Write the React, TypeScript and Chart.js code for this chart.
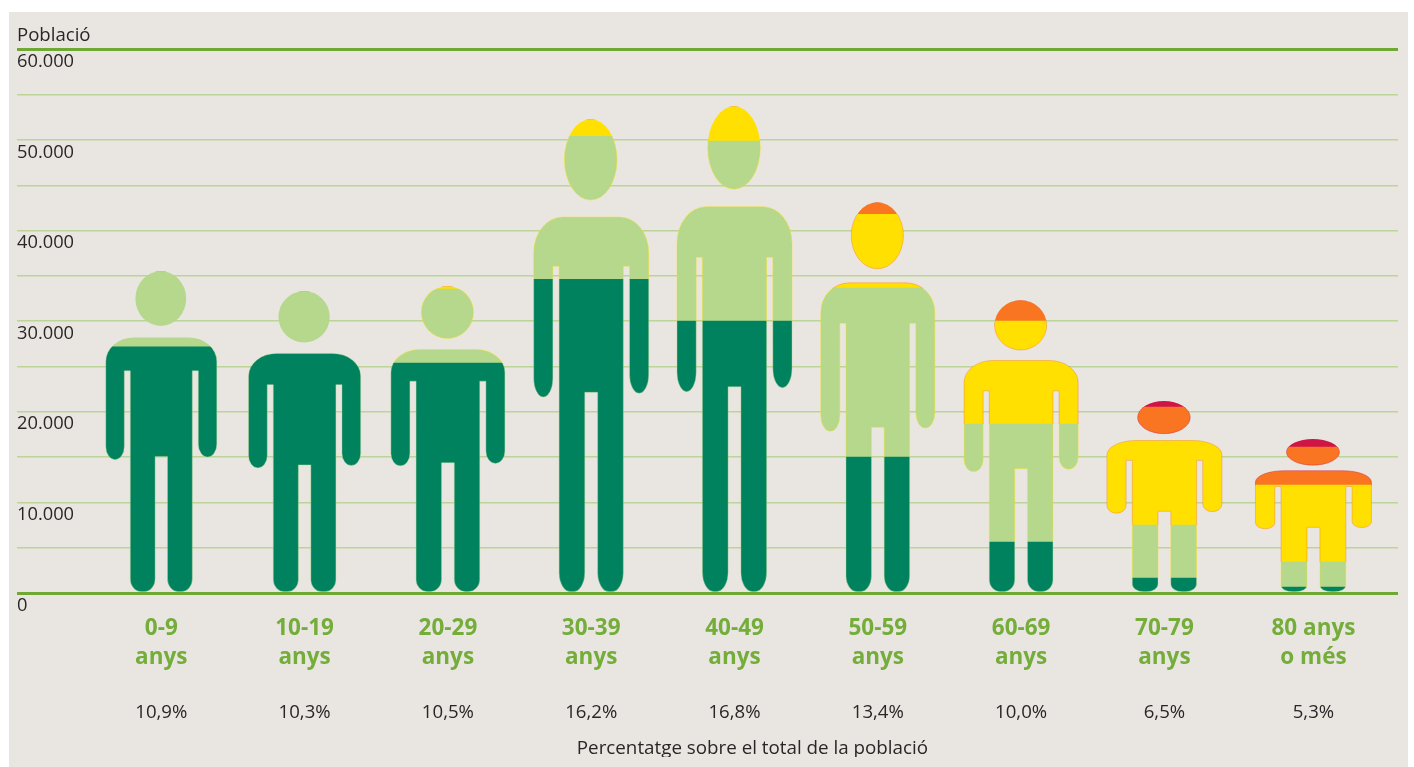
import React, { useEffect, useRef } from "react";
import { Chart, registerables } from "chart.js";

Chart.register(...registerables);

// ---- data ----
const ageLabels = [["0-9", "anys"], ["10-19", "anys"], ["20-29", "anys"], ["30-39", "anys"], ["40-49", "anys"], ["50-59", "anys"], ["60-69", "anys"], ["70-79", "anys"], ["80 anys", "o més"]];
const shareLabels = ["10,9%", "10,3%", "10,5%", "16,2%", "16,8%", "13,4%", "10,0%", "6,5%", "5,3%"];
const groupPositions = [0, 1, 2, 3, 4, 5, 6, 7, 8.04];
const captionPosition = 4.125;
const caption = "Percentatge sobre el total de la població";
const bandDarkGreen = [27170, 27020, 25370, 34630, 30000, 15000, 5630, 1650, 660];
const bandLightGreen = [8350, 6290, 8160, 15770, 19860, 18640, 13010, 5850, 2760];
const bandYellow = [0, 0, 330, 1880, 3860, 8160, 11360, 9700, 8490];
const bandOrange = [0, 0, 0, 0, 0, 1330, 2320, 3320, 4190];
const bandCrimson = [0, 0, 0, 0, 0, 0, 0, 660, 890];

// ---- style ----
const FONT = "'Open Sans', 'Noto Sans', sans-serif";
const TEXT = "#2a2627";
const ACCENT = "#6fa832";
const LABEL = "#74ad3a";
const GRID = "#bcd498";
const PANEL = "#e9e6e1";
const bands = [
  { values: bandDarkGreen, color: "#00825f" },
  { values: bandLightGreen, color: "#b5d88c" },
  { values: bandYellow, color: "#ffe000" },
  { values: bandOrange, color: "#f97522" },
  { values: bandCrimson, color: "#cf1446" },
];
const girth = [1, 1.01, 1.027, 1.036, 1.036, 1.027, 1.027, 1.036, 1.045];

function addFigure(ctx: CanvasRenderingContext2D, cx: number, top: number, foot: number, f: number) {
  const H = foot - top;
  const ax = 55.5 * f, ai = 37 * f, t = 31 * f, l = 6.2 * f;
  const bt = top + 0.207 * H, ap = top + 0.311 * H, hl = top + 0.588 * H, hr = top + 0.58 * H, cr = top + 0.578 * H;
  const rx = 28 * f, ry = 0.075 * H, arm = (ax - ai) / 2, hry = 0.04 * H, frx = 11 * f, fry = 0.04 * H;
  const hry2 = 0.0855 * H;
  ctx.moveTo(cx - ax, bt + ry);
  ctx.ellipse(cx - ax + rx, bt + ry, rx, ry, 0, Math.PI, 1.5 * Math.PI);
  ctx.lineTo(cx + ax - rx, bt);
  ctx.ellipse(cx + ax - rx, bt + ry, rx, ry, 0, -Math.PI / 2, 0);
  ctx.lineTo(cx + ax, hr - hry);
  ctx.ellipse(cx + ai + arm, hr - hry, arm, hry, 0, 0, Math.PI);
  ctx.lineTo(cx + ai, ap);
  ctx.lineTo(cx + t, ap);
  ctx.lineTo(cx + t, foot - fry);
  ctx.ellipse(cx + t - frx, foot - fry, frx, fry, 0, 0, Math.PI / 2);
  ctx.lineTo(cx + l + frx, foot);
  ctx.ellipse(cx + l + frx, foot - fry, frx, fry, 0, Math.PI / 2, Math.PI);
  ctx.lineTo(cx + l, cr);
  ctx.lineTo(cx - l, cr);
  ctx.lineTo(cx - l, foot - fry);
  ctx.ellipse(cx - l - frx, foot - fry, frx, fry, 0, 0, Math.PI / 2);
  ctx.lineTo(cx - t + frx, foot);
  ctx.ellipse(cx - t + frx, foot - fry, frx, fry, 0, Math.PI / 2, Math.PI);
  ctx.lineTo(cx - t, ap);
  ctx.lineTo(cx - ai, ap);
  ctx.lineTo(cx - ai, hl - hry);
  ctx.ellipse(cx - ai - arm, hl - hry, arm, hry, 0, 0, Math.PI);
  ctx.closePath();
  const hrx = 25.4 * f;
  ctx.moveTo(cx - 0.5 + hrx, top + hry2);
  ctx.ellipse(cx - 0.5, top + hry2, hrx, hry2, 0, 0, Math.PI * 2);
  ctx.closePath();
}

function figureArgs(chart: any, i: number) {
  const total = bands.reduce((s, b) => s + b.values[i], 0);
  return {
    cx: chart.scales.x.getPixelForValue(groupPositions[i]),
    top: chart.scales.y.getPixelForValue(total),
    foot: chart.scales.y.getPixelForValue(0) - 1.3,
    f: girth[i],
  };
}

const silhouettePlugin = {
  id: "silhouette",
  beforeDatasetsDraw(chart: any) {
    const ctx = chart.ctx;
    ctx.save();
    ctx.beginPath();
    groupPositions.forEach((_, i) => {
      const a = figureArgs(chart, i);
      addFigure(ctx, a.cx, a.top, a.foot, a.f);
    });
    ctx.clip();
  },
  afterDatasetsDraw(chart: any) {
    const ctx = chart.ctx;
    ctx.restore();
    // thin edge in the colour of the band above
    groupPositions.forEach((_, i) => {
      const a = figureArgs(chart, i);
      bands.forEach((b, k) => {
        const next = bands.slice(k + 1).find((n) => n.values[i] > 0);
        if (!next || b.values[i] <= 0) return;
        const bar = chart.getDatasetMeta(k).data[i];
        ctx.save();
        ctx.beginPath();
        ctx.rect(a.cx - 70, bar.y, 140, bar.base - bar.y);
        ctx.clip();
        ctx.beginPath();
        addFigure(ctx, a.cx, a.top, a.foot, a.f);
        ctx.strokeStyle = next.color;
        ctx.globalAlpha = 0.5;
        ctx.lineWidth = 0.8;
        ctx.stroke();
        ctx.restore();
      });
    });
  },
};

const bottomAxis = (height: number, extra: any) => ({
  type: "linear",
  position: "bottom",
  min: -1.007,
  max: 8.63,
  offset: false,
  afterFit: (s: any) => { s.height = height; },
  grid: { display: false, drawTicks: false, offset: false },
  border: { display: false },
  ...extra,
});

export default function App() {
  const ref = useRef<HTMLCanvasElement>(null);
  useEffect(() => {
    const chart = new Chart(ref.current as HTMLCanvasElement, {
      type: "bar",
      data: {
        datasets: bands.map((b) => ({
          data: groupPositions.map((x, i) => ({ x, y: b.values[i] })),
          backgroundColor: b.color,
          borderWidth: 0,
          barThickness: 130,
        })),
      },
      plugins: [silhouettePlugin],
      options: {
        responsive: false,
        animation: false,
        layout: { padding: { left: 17, right: 16, top: 0, bottom: 10 } },
        plugins: {
          legend: { display: false },
          tooltip: { enabled: false },
          title: {
            display: true,
            text: "Població",
            align: "start",
            color: TEXT,
            font: { family: FONT, size: 18.6, weight: "normal", lineHeight: 1.2 },
            padding: { top: 24.5, bottom: 2.5 },
          },
        },
        scales: {
          y: {
            stacked: true,
            min: 0,
            max: 60000,
            afterFit: (s: any) => { s.paddingTop = 0; s.paddingBottom = 0; },
            border: { display: false },
            grid: {
              drawTicks: false,
              color: (c: any) => (c.tick.value === 0 || c.tick.value === 60000 ? ACCENT : GRID),
              lineWidth: (c: any) => (c.tick.value === 0 || c.tick.value === 60000 ? 3 : 1.4),
            },
            ticks: {
              stepSize: 5000,
              autoSkip: false,
              mirror: true,
              padding: 0,
              labelOffset: 12.5,
              color: TEXT,
              font: { family: FONT, size: 18.3 },
              callback: (v: any) => (v % 10000 === 0 ? (v === 0 ? "0" : `${v / 1000}.000`) : ""),
            },
          },
          x: bottomAxis(78, {
            stacked: true,
            weight: 0,
            afterBuildTicks: (a: any) => { a.ticks = groupPositions.map((value) => ({ value })); },
            ticks: {
              autoSkip: false,
              maxRotation: 0,
              padding: 21.5,
              color: LABEL,
              font: { family: FONT, size: 22.5, weight: "bold", lineHeight: 29 / 22.5 },
              callback: (_: any, i: number) => ageLabels[i],
            },
          }),
          x2: bottomAxis(50, {
            weight: 1,
            afterBuildTicks: (a: any) => { a.ticks = groupPositions.map((value) => ({ value })); },
            ticks: {
              autoSkip: false,
              maxRotation: 0,
              padding: 32,
              color: TEXT,
              font: { family: FONT, size: 18.6, lineHeight: 20 / 18.6 },
              callback: (_: any, i: number) => shareLabels[i],
            },
          }),
          x3: bottomAxis(36, {
            weight: 2,
            afterBuildTicks: (a: any) => { a.ticks = [{ value: captionPosition }]; },
            ticks: {
              autoSkip: false,
              maxRotation: 0,
              padding: 18,
              color: TEXT,
              font: { family: FONT, size: 18.8, lineHeight: 20 / 18.8 },
              callback: () => caption,
            },
          }),
        },
      } as any,
    } as any);
    return () => chart.destroy();
  }, []);
  return (
    <div style={{ position: "fixed", left: 0, top: 0, width: 1414, height: 767, background: "#fff", overflow: "hidden" }}>
      <div style={{ position: "absolute", left: 9, top: 12, width: 1399, height: 755, background: PANEL }} />
      <canvas ref={ref} width={1414} height={767} style={{ position: "absolute", left: 0, top: 0, display: "block" }} />
    </div>
  );
}
